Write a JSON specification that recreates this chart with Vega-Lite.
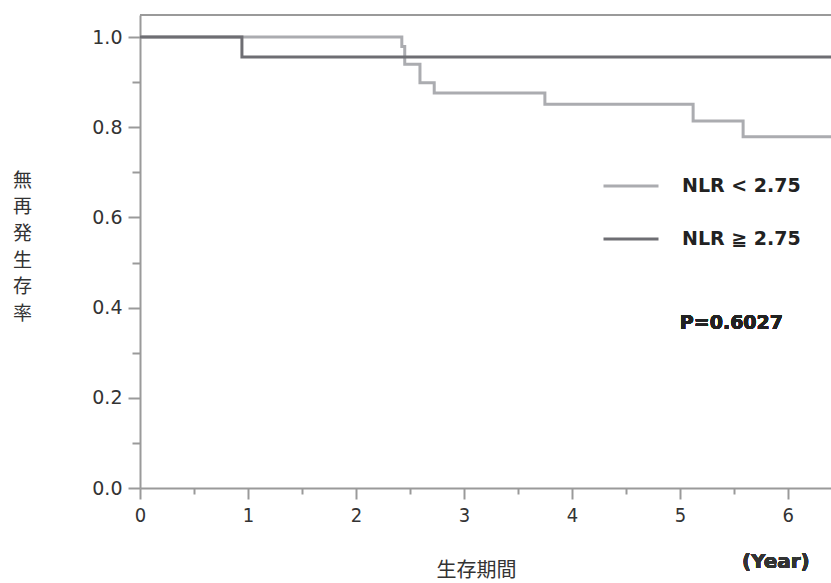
{
  "$schema": "https://vega.github.io/schema/vega-lite/v6.json",
  "width": 691,
  "height": 473,
  "autosize": {"type": "none"},
  "padding": {"left": 140, "top": 15, "right": 0, "bottom": 95},
  "background": "white",
  "config": {
    "view": {"stroke": null},
    "font": "DejaVu Sans"
  },
  "data": {
    "values": [
      {"group": "NLR < 2.75", "t": 0, "s": 1.0},
      {"group": "NLR < 2.75", "t": 2.425, "s": 0.979},
      {"group": "NLR < 2.75", "t": 2.452, "s": 0.94},
      {"group": "NLR < 2.75", "t": 2.593, "s": 0.899},
      {"group": "NLR < 2.75", "t": 2.725, "s": 0.876},
      {"group": "NLR < 2.75", "t": 3.75, "s": 0.851},
      {"group": "NLR < 2.75", "t": 5.123, "s": 0.814},
      {"group": "NLR < 2.75", "t": 5.586, "s": 0.779},
      {"group": "NLR < 2.75", "t": 6.4, "s": 0.779},
      {"group": "NLR ≧ 2.75", "t": 0, "s": 1.0},
      {"group": "NLR ≧ 2.75", "t": 0.944, "s": 0.956},
      {"group": "NLR ≧ 2.75", "t": 6.4, "s": 0.956}
    ]
  },
  "layer": [
    {
      "mark": {"type": "rule", "color": "#9a9a9a", "strokeWidth": 2},
      "encoding": {
        "y": {"datum": 1.049}
      }
    },
    {
      "mark": {"type": "line", "interpolate": "step-after", "strokeWidth": 3},
      "encoding": {
        "x": {
          "field": "t", "type": "quantitative",
          "scale": {"domain": [0, 6.4], "nice": false, "zero": false},
          "axis": {
            "values": [0, 0.5, 1, 1.5, 2, 2.5, 3, 3.5, 4, 4.5, 5, 5.5, 6],
            "labelExpr": "datum.value % 1 === 0 ? format(datum.value, 'd') : ''",
            "labelFlush": false,
            "grid": false,
            "domainColor": "#9a9a9a", "domainWidth": 2,
            "tickColor": "#9a9a9a", "tickWidth": 2,
            "tickSize": {"condition": {"test": "datum.value % 1 === 0", "value": 11}, "value": 6},
            "labelFont": "DejaVu Sans Condensed", "labelFontSize": 20, "labelColor": "#333333",
            "labelPadding": 6,
            "title": "生存期間",
            "titleFont": "Noto Sans CJK JP", "titleFontSize": 20, "titleFontWeight": "normal",
            "titleColor": "#333333",
            "titleX": 336, "titleY": 82, "titleBaseline": "middle"
          }
        },
        "y": {
          "field": "s", "type": "quantitative",
          "scale": {"domain": [0, 1.049], "nice": false},
          "axis": {
            "values": [0, 0.1, 0.2, 0.3, 0.4, 0.5, 0.6, 0.7, 0.8, 0.9, 1.0],
            "labelExpr": "round(datum.value * 10) % 2 === 0 ? format(datum.value, '.1f') : ''",
            "grid": false,
            "domainColor": "#9a9a9a", "domainWidth": 2,
            "tickColor": "#9a9a9a", "tickWidth": 2,
            "tickSize": {"condition": {"test": "round(datum.value * 10) % 2 === 0", "value": 12}, "value": 8},
            "labelFont": "DejaVu Sans", "labelFontSize": 19, "labelColor": "#333333",
            "labelPadding": 6,
            "title": ["無", "再", "発", "生", "存", "率"],
            "titleAngle": 0,
            "titleFont": "Noto Sans CJK JP", "titleFontSize": 19, "titleFontWeight": "normal",
            "titleColor": "#333333",
            "titleLineHeight": 26.7,
            "titleAlign": "center", "titleBaseline": "middle",
            "titleX": -118, "titleY": 165
          }
        },
        "color": {
          "field": "group", "type": "nominal",
          "scale": {"domain": ["NLR < 2.75", "NLR ≧ 2.75"], "range": ["#abacb0", "#6e6e73"]},
          "legend": {
            "orient": "none",
            "legendX": 462,
            "legendY": 142,
            "title": null,
            "symbolType": "stroke",
            "symbolSize": 3025,
            "symbolStrokeWidth": 3,
            "labelFont": "DejaVu Sans", "labelFontSize": 19, "labelFontWeight": "bold",
            "labelColor": "#222222",
            "labelOffset": 22,
            "rowPadding": 14
          }
        }
      }
    },
    {
      "mark": {"type": "text", "align": "left", "baseline": "middle", "font": "DejaVu Sans", "fontSize": 19, "fontWeight": "bold", "color": "#222222"},
      "encoding": {
        "x": {"datum": 5.0},
        "y": {"datum": 0.366},
        "text": {"value": "P=0.6027"}
      }
    },
    {
      "mark": {"type": "text", "align": "center", "baseline": "middle", "font": "DejaVu Sans", "fontSize": 20, "fontWeight": "bold", "color": "#333333"},
      "encoding": {
        "x": {"datum": 5.889},
        "y": {"datum": -0.164},
        "text": {"value": "(Year)"}
      }
    }
  ]
}
